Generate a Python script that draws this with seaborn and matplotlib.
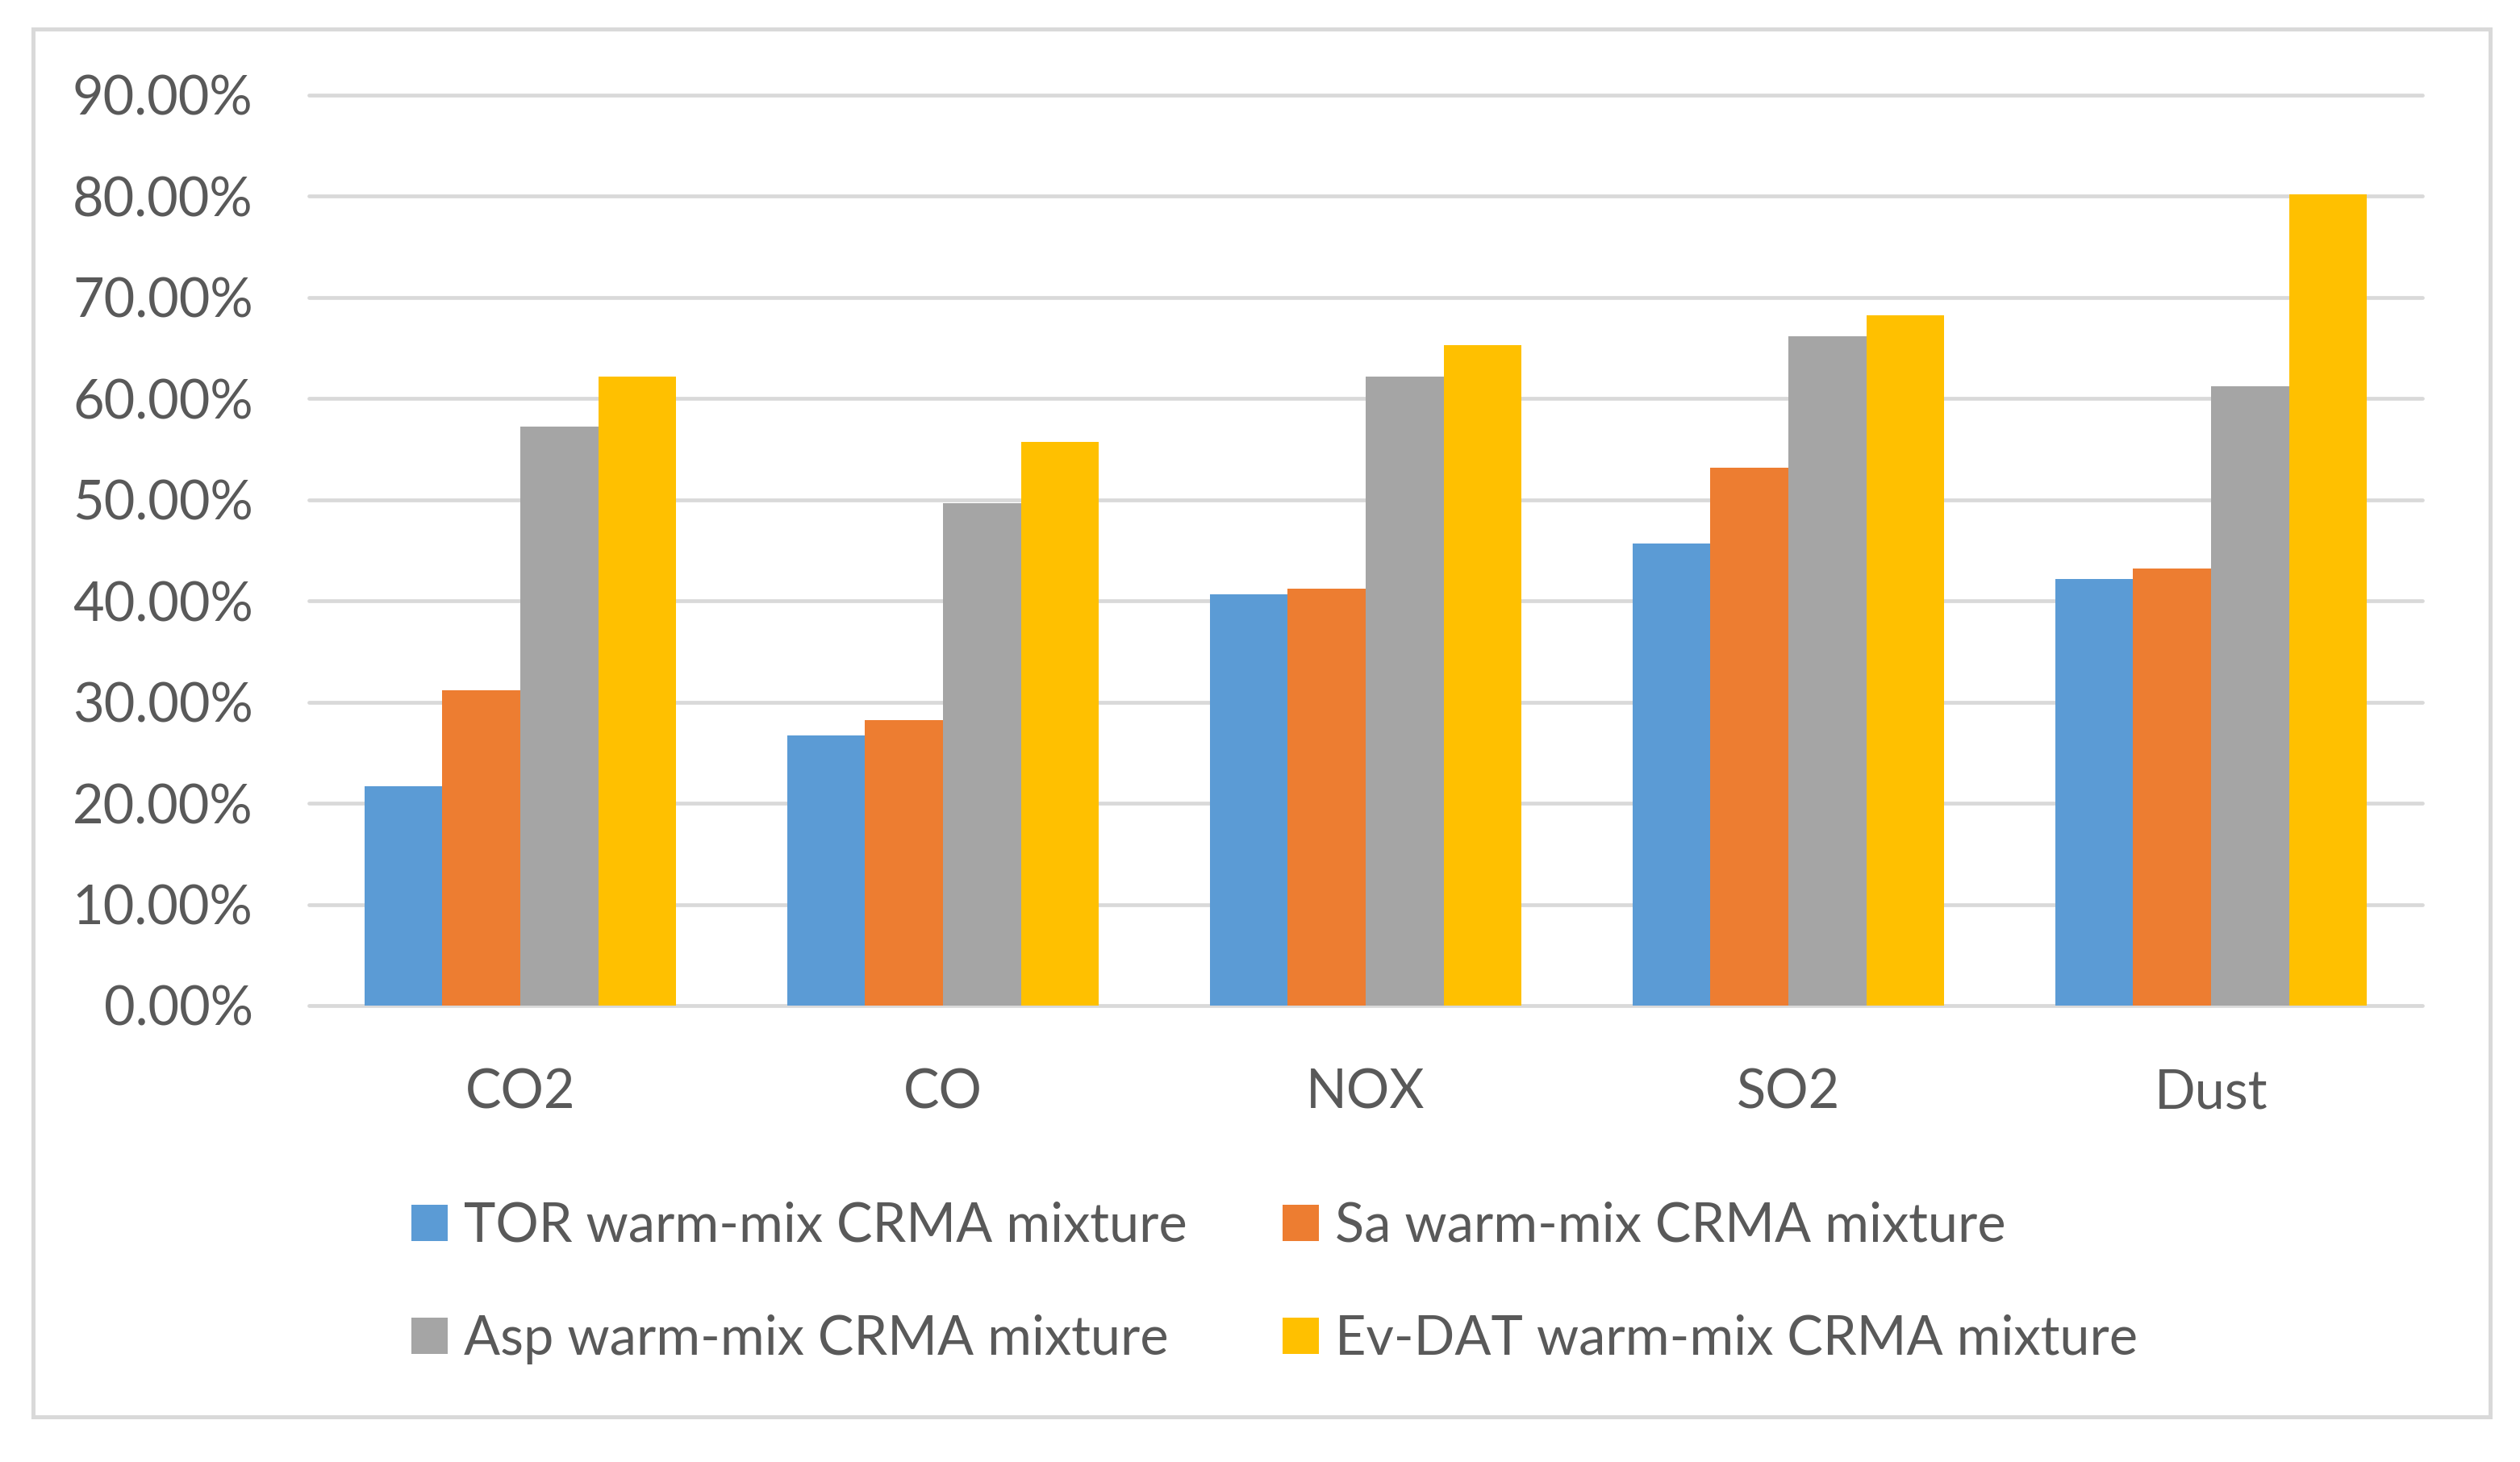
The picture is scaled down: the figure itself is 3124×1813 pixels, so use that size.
import seaborn as sns
import numpy as np
import pandas as pd
import matplotlib.pyplot as plt
from matplotlib.ticker import PercentFormatter
from matplotlib.patches import Rectangle

# values (fractions)
pollutants = ["CO2", "CO", "NOX", "SO2", "Dust"]
mixtures = ["TOR warm-mix CRMA mixture", "Sa warm-mix CRMA mixture",
            "Asp warm-mix CRMA mixture", "Ev-DAT warm-mix CRMA mixture"]
tor = [0.2165, 0.2670, 0.4065, 0.4570, 0.4215]
sa = [0.3120, 0.2820, 0.4125, 0.5315, 0.4320]
asp = [0.5720, 0.4965, 0.6220, 0.6620, 0.6125]
evdat = [0.6220, 0.5575, 0.6525, 0.6820, 0.8020]
colors = ["#5b9bd5", "#ed7d31", "#a5a5a5", "#ffc000"]
yticks = np.arange(0, 0.91, 0.1)

df = pd.DataFrame({"pollutant": pollutants * 4,
                   "mixture": np.repeat(mixtures, 5),
                   "value": tor + sa + asp + evdat})

sns.set_theme(style="white")
plt.rcParams['font.family'] = ['Lato', 'DejaVu Sans']
txt = "#595959"
grid = "#d9d9d9"

W, H = 3124, 1813
fig = plt.figure(figsize=(W / 100, H / 100), dpi=100)
ax = fig.add_axes([383 / W, 1 - 1247 / H, 2620 / W, (1247 - 118) / H])

sns.barplot(data=df, x="pollutant", y="value", hue="mixture", palette=colors,
            width=0.737, gap=0, saturation=1, linewidth=0, ax=ax, legend=True)

ax.set_ylim(0, 0.9)
ax.set_yticks(yticks)
ax.yaxis.set_major_formatter(PercentFormatter(xmax=1, decimals=2))
ax.set_xlabel("")
ax.set_ylabel("")
ax.set_axisbelow(True)
ax.grid(axis="y", color=grid, lw=3.4)
ax.grid(axis="x", visible=False)
for gl in ax.get_ygridlines():
    gl.set_clip_on(False)
for s in ax.spines.values():
    s.set_visible(False)
ax.tick_params(axis="y", length=0, pad=50, labelsize=48, labelcolor=txt)
ax.tick_params(axis="x", length=0, pad=56, labelsize=48, labelcolor=txt)

handles, labels = ax.get_legend_handles_labels()
ax.get_legend().remove()
# legend fills column-wise, reorder so rows read TOR, Sa / Asp, Ev-DAT
order = [0, 2, 1, 3]
fig.legend([handles[i] for i in order], [labels[i] for i in order], ncol=2,
           loc="center left", bbox_to_anchor=(510 / W, 1 - 1591 / H), frameon=False,
           fontsize=48, labelcolor=txt, handlelength=0.67, handleheight=0.67,
           handletextpad=0.3, columnspacing=1.78, labelspacing=1.17,
           borderpad=0, borderaxespad=0)

# outer chart border
fig.patches.append(Rectangle((41 / W, 1 - 1757 / H), (3087 - 41) / W, (1757 - 36) / H,
                             transform=fig.transFigure, fill=False,
                             edgecolor=grid, lw=3.6))

fig.savefig("out.png", dpi=100)
